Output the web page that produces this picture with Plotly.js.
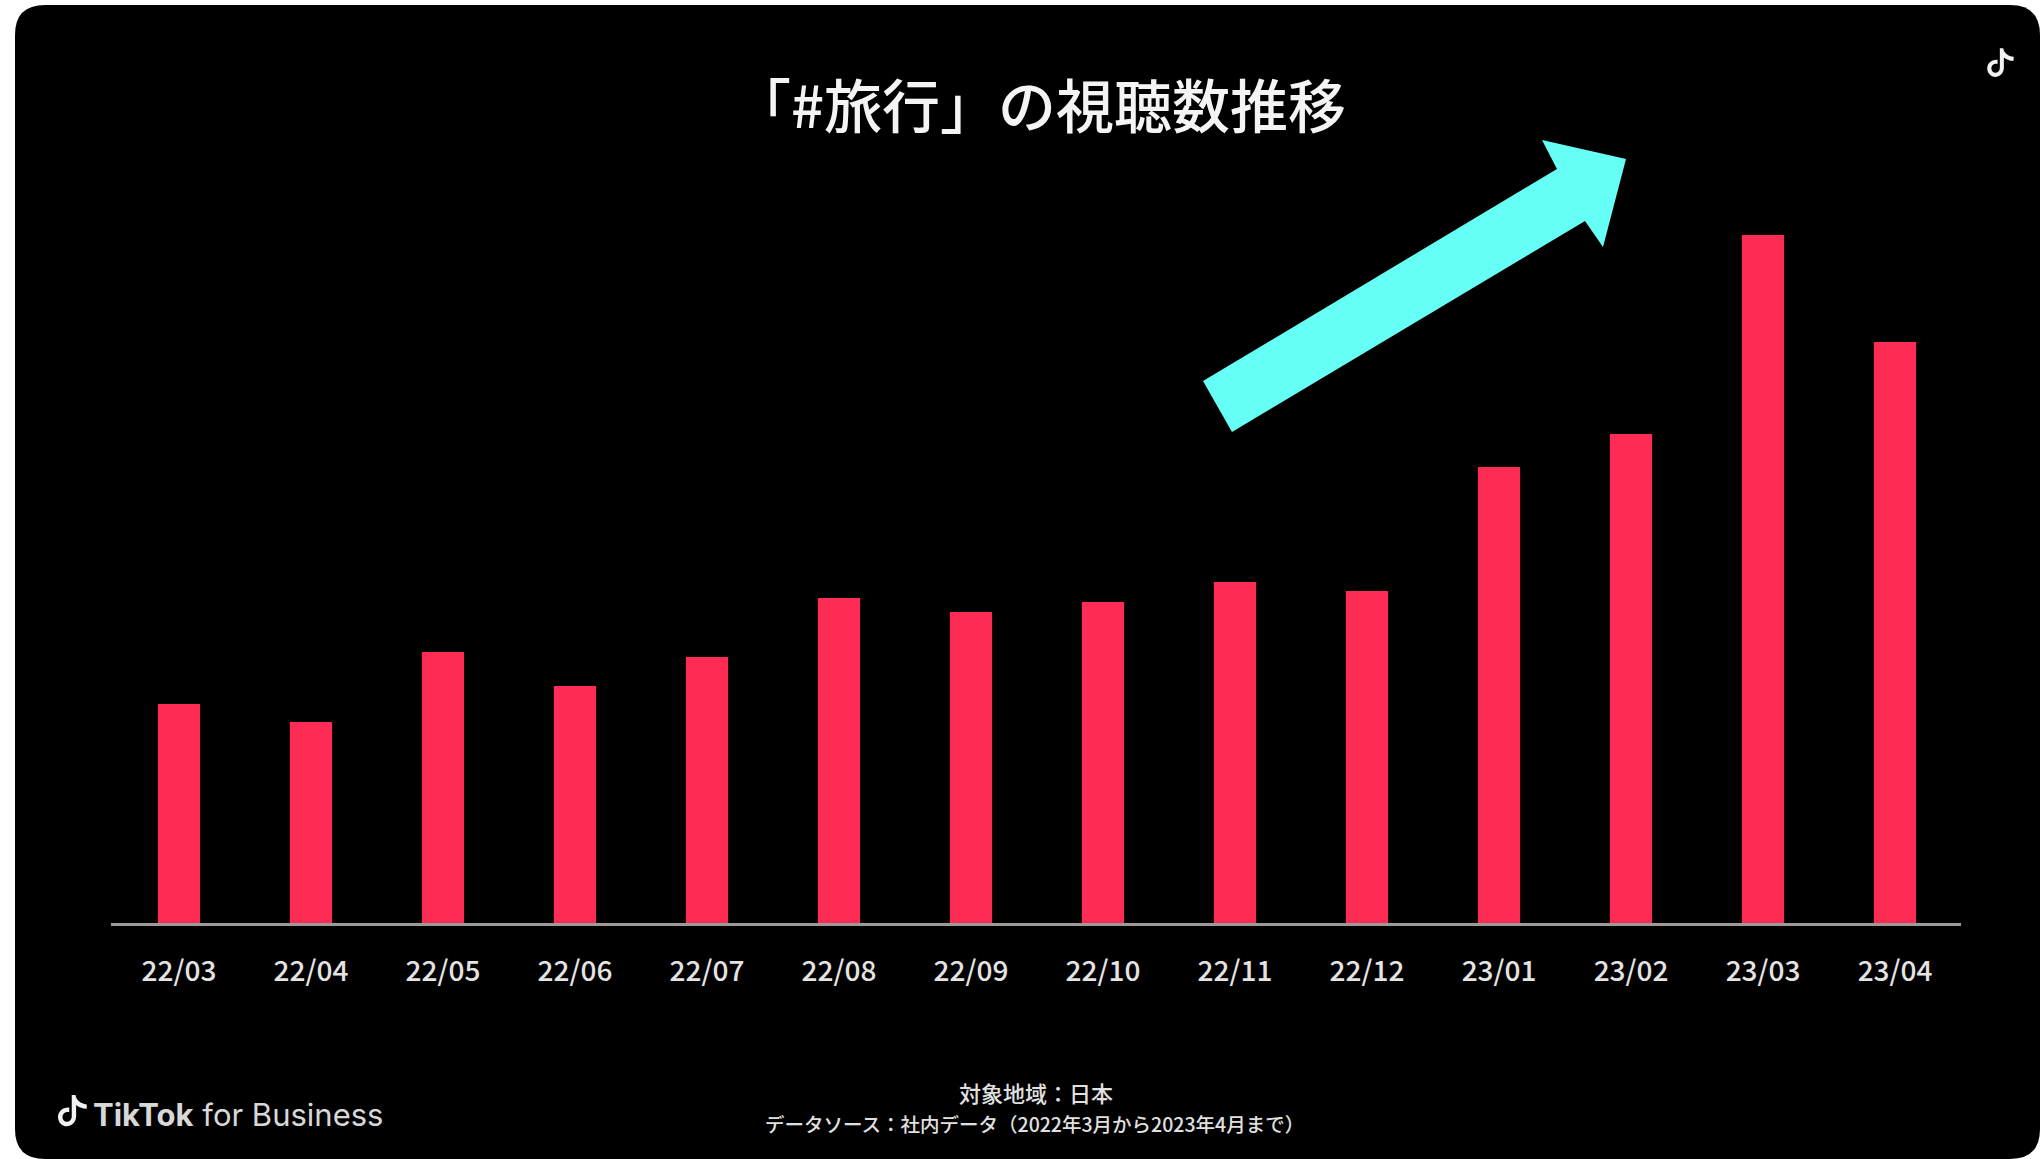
<!DOCTYPE html>
<html>
<head>
<meta charset="utf-8">
<script src="https://cdn.plot.ly/plotly-3.0.1.min.js"></script>
<style>html,body{margin:0;padding:0;background:#fff}</style>
</head>
<body>
<div id="chart" style="width:2040px;height:1159px"></div>
<script>
// Monthly view counts for the hashtag (relative units, the source gives no scale)
const months = ['22/03','22/04','22/05','22/06','22/07','22/08','22/09','22/10','22/11','22/12','23/01','23/02','23/03','23/04'];
const views = [219,201,271,237,266,325,311,321,341,332,456,489,688,581];

const W = 2040, H = 1159;
const CJK = '"Noto Sans CJK JP","Noto Sans",sans-serif';
const px = x => (x - 111) / 1850;
const py = y => (923 - y) / 800;
const P = (x, y) => px(x) + ',' + py(y);

// Black card with rounded corners behind the chart
const cardL = 15, cardT = 5, cardR = 2040, cardB = 1159, rad = 30;
const cardPath = 'M' + P(cardL + rad, cardT) + ' L' + P(cardR - rad, cardT) +
  ' Q' + P(cardR, cardT) + ' ' + P(cardR, cardT + rad) +
  ' L' + P(cardR, cardB - rad) + ' Q' + P(cardR, cardB) + ' ' + P(cardR - rad, cardB) +
  ' L' + P(cardL + rad, cardB) + ' Q' + P(cardL, cardB) + ' ' + P(cardL, cardB - rad) +
  ' L' + P(cardL, cardT + rad) + ' Q' + P(cardL, cardT) + ' ' + P(cardL + rad, cardT) + ' Z';

// Upward trend arrow
const arrowPts = [[1203,381],[1232,432],[1585,221],[1603,247],[1626,159],[1542,140],[1557,169]];
const arrowPath = 'M' + arrowPts.map(p => P(p[0], p[1])).join(' L') + ' Z';

// Musical-note brand mark, placed by its centre and scale
function noteMark(cx, cy, s) {
  const q = (a, b) => P(cx + a * s, cy + b * s);
  return 'M' + q(-1, -12) + ' L' + q(2, -12) +
    ' C' + q(2.5, -8) + ' ' + q(6, -5) + ' ' + q(11, -4.5) +
    ' L' + q(11, -1) + ' C' + q(7, -1) + ' ' + q(4.5, -2.5) + ' ' + q(2.5, -4) +
    ' L' + q(2.5, 5) + ' C' + q(2.5, 10) + ' ' + q(-1.5, 13) + ' ' + q(-5, 13) +
    ' C' + q(-9, 13) + ' ' + q(-12, 9.5) + ' ' + q(-12, 5.5) +
    ' C' + q(-12, 1) + ' ' + q(-8, -2.5) + ' ' + q(-3, -2) +
    ' L' + q(-3, 1.8) + ' C' + q(-6, 1) + ' ' + q(-8.4, 3) + ' ' + q(-8.4, 5.5) +
    ' C' + q(-8.4, 7.8) + ' ' + q(-6.8, 9.4) + ' ' + q(-5, 9.4) +
    ' C' + q(-2.8, 9.4) + ' ' + q(-1, 7.8) + ' ' + q(-1, 5) + ' Z';
}

const note = (text, x, y, size, family, color, weight) => ({
  text, xref: 'paper', yref: 'paper', x: px(x), y: py(y),
  xanchor: 'center', yanchor: 'middle', showarrow: false,
  font: {family, size, color, weight: weight || 400}
});

const data = [{
  type: 'bar',
  x: months,
  y: views,
  marker: {color: '#FE2C55', line: {width: 0}},
  hoverinfo: 'x+y'
}];

const layout = {
  width: W, height: H,
  margin: {l: 111, r: 79, t: 123, b: 236},
  paper_bgcolor: '#ffffff',
  plot_bgcolor: 'rgba(0,0,0,0)',
  showlegend: false,
  bargap: 0.68,
  xaxis: {
    type: 'category',
    range: [-0.515, 13.5],
    showline: true, linecolor: '#9a9a9a', linewidth: 3,
    showgrid: false, zeroline: false,
    ticks: 'outside', ticklen: 0, ticklabelstandoff: 21,
    tickfont: {family: CJK, size: 28, color: '#e4e4e4', weight: 500},
    tickangle: 0, fixedrange: true
  },
  yaxis: {range: [0, 800], visible: false, fixedrange: true},
  shapes: [
    {type: 'path', xref: 'paper', yref: 'paper', layer: 'below', path: cardPath, fillcolor: '#000000', line: {width: 0}},
    {type: 'path', xref: 'paper', yref: 'paper', path: arrowPath, fillcolor: '#66FFF6', line: {width: 0}},
    {type: 'path', xref: 'paper', yref: 'paper', path: noteMark(2001, 62, 1.15), fillcolor: '#f2f2f2', line: {width: 0}},
    {type: 'path', xref: 'paper', yref: 'paper', path: noteMark(73, 1110, 1.25), fillcolor: '#f2f2f2', line: {width: 0}}
  ],
  annotations: [
    note('「#旅行」の視聴数推移', 1039, 103, 58, CJK, '#f4f4f4', 500),
    note('<b>TikTok</b> for Business', 238, 1114, 31, 'Inter,Roboto,sans-serif', '#d8d8d8'),
    note('対象地域：日本', 1036, 1092, 22, CJK, '#e0e0e0', 500),
    note('データソース：社内データ（2022年3月から2023年4月まで）', 1034, 1123, 19.5, CJK, '#e0e0e0', 500)
  ]
};

Plotly.newPlot('chart', data, layout, {displayModeBar: false, responsive: false});
</script>
</body>
</html>
